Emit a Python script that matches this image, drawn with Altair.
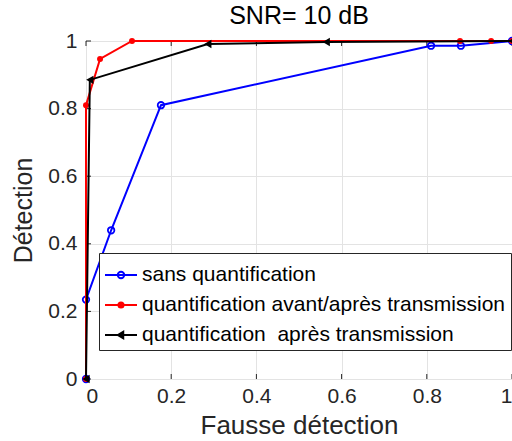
import altair as alt
import pandas as pd

FONT = "Liberation Sans"

series = [
    "sans quantification",
    "quantification avant/après transmission",
    "quantification\u00a0 après transmission",
]
colors = ["#0000ff", "#ff0000", "#000000"]

fa_sans = [0.0, 0.0, 0.059, 0.176, 0.81, 0.88, 1.0]
det_sans = [0.0, 0.235, 0.44, 0.81, 0.986, 0.986, 1.0]

fa_avant = [0.0, 0.0, 0.033, 0.108, 0.878, 0.951, 1.0]
det_avant = [0.0, 0.81, 0.947, 1.0, 1.0, 1.0, 1.0]

fa_apres = [0.0, 0.009, 0.286, 0.564, 1.0]
det_apres = [0.0, 0.885, 0.991, 0.997, 1.0]

tick_values = [0, 0.2, 0.4, 0.6, 0.8, 1.0]

rows = []
for name, fa, det in zip(series, [fa_sans, fa_avant, fa_apres], [det_sans, det_avant, det_apres]):
    for i, (a, b) in enumerate(zip(fa, det)):
        rows.append({"series": name, "fa": a, "det": b, "idx": i})
df = pd.DataFrame(rows)
ticks_df = pd.DataFrame({"fa": tick_values, "det": tick_values})

W, H = 426, 338

xscale = alt.Scale(domain=[0, 1], nice=False)
yscale = alt.Scale(domain=[0, 1], nice=False)
xaxis = alt.Axis(values=tick_values, format=".1~f", title="Fausse détection",
                 titlePadding=6, titleFontSize=26)
yaxis = alt.Axis(values=tick_values, format=".1~f", title="Détection", titlePadding=11)
xenc = alt.X("fa:Q", scale=xscale, axis=xaxis)
yenc = alt.Y("det:Q", scale=yscale, axis=yaxis)

base = alt.Chart(df)

def series_layers(k, point_mark):
    sub = base.transform_filter(alt.datum.series == series[k])
    line = sub.mark_line(color=colors[k], strokeWidth=2).encode(
        x=xenc, y=yenc, order="idx:Q")
    pts = sub.mark_point(**point_mark).encode(x=xenc, y=yenc)
    return [line, pts]

layers = []
tb = alt.Chart(ticks_df)
tick_top = tb.mark_rule(color="#262626", strokeWidth=1).encode(
    x=xenc, y=alt.value(0), y2=alt.value(5))
tick_bot = tb.mark_rule(color="#262626", strokeWidth=1).encode(
    x=xenc, y=alt.value(H - 5), y2=alt.value(H))
tick_left = tb.mark_rule(color="#262626", strokeWidth=1).encode(
    y=yenc, x=alt.value(0), x2=alt.value(5))
layers += [tick_top, tick_bot, tick_left]

layers += series_layers(0, dict(shape="circle", filled=False, size=42, strokeWidth=1.8,
                                color=colors[0], opacity=1))
layers += series_layers(1, dict(shape="circle", filled=True, size=36, color=colors[1], opacity=1))
layers += series_layers(2, dict(shape="triangle-left", filled=True, size=70, color=colors[2], opacity=1))

circle_path = "M-1,0H1M-0.2,0A0.2,0.2,0,1,1,0.2,0A0.2,0.2,0,1,1,-0.2,0Z"
dot_path = "M-1,0H1M-0.16,0A0.16,0.16,0,1,1,0.16,0A0.16,0.16,0,1,1,-0.16,0Z"
tri_path = "M-1,0H1M-0.2,0L0.14,-0.2L0.14,0.2Z"

leg = alt.Legend(title=None, orient="none", legendX=13, legendY=212)
legend_layer = base.transform_filter("false").mark_point(filled=True, opacity=1, strokeWidth=2).encode(
    x=xenc, y=yenc,
    stroke=alt.Stroke("series:N", scale=alt.Scale(domain=series, range=colors), legend=leg),
    fill=alt.Fill("series:N", scale=alt.Scale(domain=series, range=["transparent", colors[1], colors[2]]), legend=leg),
    shape=alt.Shape("series:N", scale=alt.Scale(domain=series, range=[circle_path, dot_path, tri_path]), legend=leg),
)
layers.append(legend_layer)

chart = alt.layer(*layers).properties(
    width=W, height=H,
    background="white",
    title=alt.TitleParams("SNR= 10 dB", fontSize=25, font=FONT, fontWeight="normal",
                          color="#000000", offset=1, anchor="middle"),
    autosize=alt.AutoSizeParams(type="none"),
    padding={"left": 86, "top": 41, "right": 0, "bottom": 62},
).configure_view(stroke="#262626", strokeWidth=1).configure_axis(
    labelFont=FONT, labelFontSize=21, labelColor="#262626",
    titleFont=FONT, titleFontSize=25, titleColor="#262626", titleFontWeight="normal",
    grid=True, gridColor="#e3e3e3", gridWidth=1, domain=False, ticks=False,
    labelPadding=6,
).configure_axisY(labelPadding=9).configure_legend(
    labelFont=FONT, labelFontSize=21, labelColor="#000000",
    symbolSize=1024, symbolStrokeWidth=2, labelOffset=4, padding=5, rowPadding=3,
    strokeColor="#262626", fillColor="#ffffff", labelLimit=0,
)

chart.save("out.html", embed_options={"renderer": "svg", "actions": False})
